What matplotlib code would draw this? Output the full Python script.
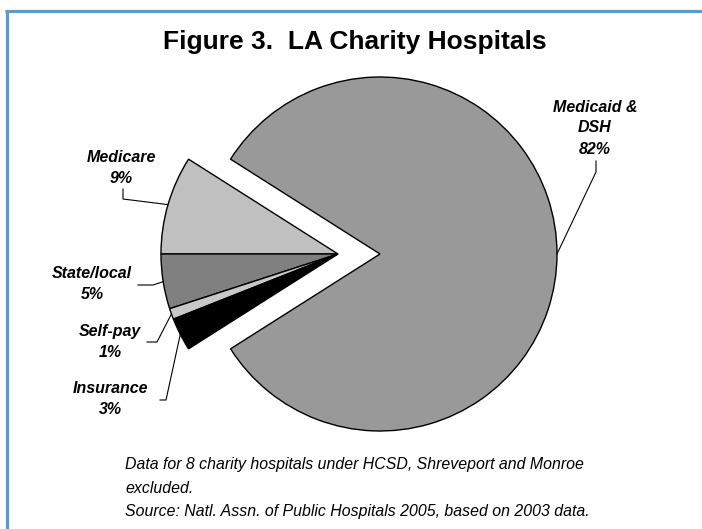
import numpy as np
import matplotlib.pyplot as plt

# payer mix, LA charity hospitals (share of revenue, %)
payers = ['Medicare', 'State/local', 'Self-pay', 'Insurance', 'Medicaid &\nDSH']
shares = [9, 5, 1, 3, 82]
colors = ['#c0c0c0', '#808080', '#c8c8c8', '#000000', '#999999']
pct_labels = ['9%', '5%', '1%', '3%', '82%']

W, H = 702, 529
fig = plt.figure(figsize=(W / 100, H / 100), dpi=100)
ax = fig.add_axes([0, 0, 1, 1])

# pixel layout (y measured from top of image)
cx, cy, r = 380, H - 254, 177
shift = 42  # the small slices are pulled out to the left

wedges, _ = ax.pie(shares, colors=colors, startangle=180 - shares[0] * 3.6,
                   counterclock=True, radius=r, center=(cx, cy), frame=True,
                   wedgeprops=dict(edgecolor='black', linewidth=1.0))
ax.set_xlim(0, W)
ax.set_ylim(0, H)
ax.set_aspect('equal')
ax.axis('off')
for w in wedges[:4]:
    w.set_center((cx - shift, cy))

# label text positions and elbow of the leader line (image px)
label_pos = [(121, 168), (92, 284), (110, 342), (110, 399), (595, 128)]
elbows = [[(123, 189), (123, 199)],
          [(138, 285), (153, 285)],
          [(147, 342), (157, 342)],
          [(160, 400), (166, 400)],
          [(596, 161), (596, 172)]]

lbl_font = dict(family='Liberation Sans', weight='bold', style='italic', size=11.5)
for i, w in enumerate(wedges):
    mid = np.deg2rad((w.theta1 + w.theta2) / 2)
    ex = w.center[0] + r * np.cos(mid)
    ey = w.center[1] + r * np.sin(mid)
    lx, ly = label_pos[i]
    ax.text(lx, H - ly, payers[i] + '\n' + pct_labels[i], ha='center', va='center',
            linespacing=1.5, **lbl_font)
    xs = [p[0] for p in elbows[i]] + [ex]
    ys = [H - p[1] for p in elbows[i]] + [ey]
    ax.plot(xs, ys, color='black', linewidth=0.8)

fig.text(355 / W, 1 - 42 / H, 'Figure 3.  LA Charity Hospitals', ha='center', va='center',
         family='Liberation Sans', weight='bold', size=19)

note = ('Data for 8 charity hospitals under HCSD, Shreveport and Monroe\n'
        'excluded.\n'
        'Source: Natl. Assn. of Public Hospitals 2005, based on 2003 data.')
fig.text(125 / W, 1 - 457 / H, note, ha='left', va='top', family='Liberation Sans',
         style='italic', size=11.4, linespacing=1.72)

# blue frame round the chart
frame_col = '#5b9dc8'
ax.plot([5, W], [H - 11.3, H - 11.3], color=frame_col, linewidth=2.3, solid_capstyle='butt')
ax.plot([6.8, 6.8], [0, H - 10], color=frame_col, linewidth=2.3, solid_capstyle='butt')

fig.savefig('out.png', dpi=100)
